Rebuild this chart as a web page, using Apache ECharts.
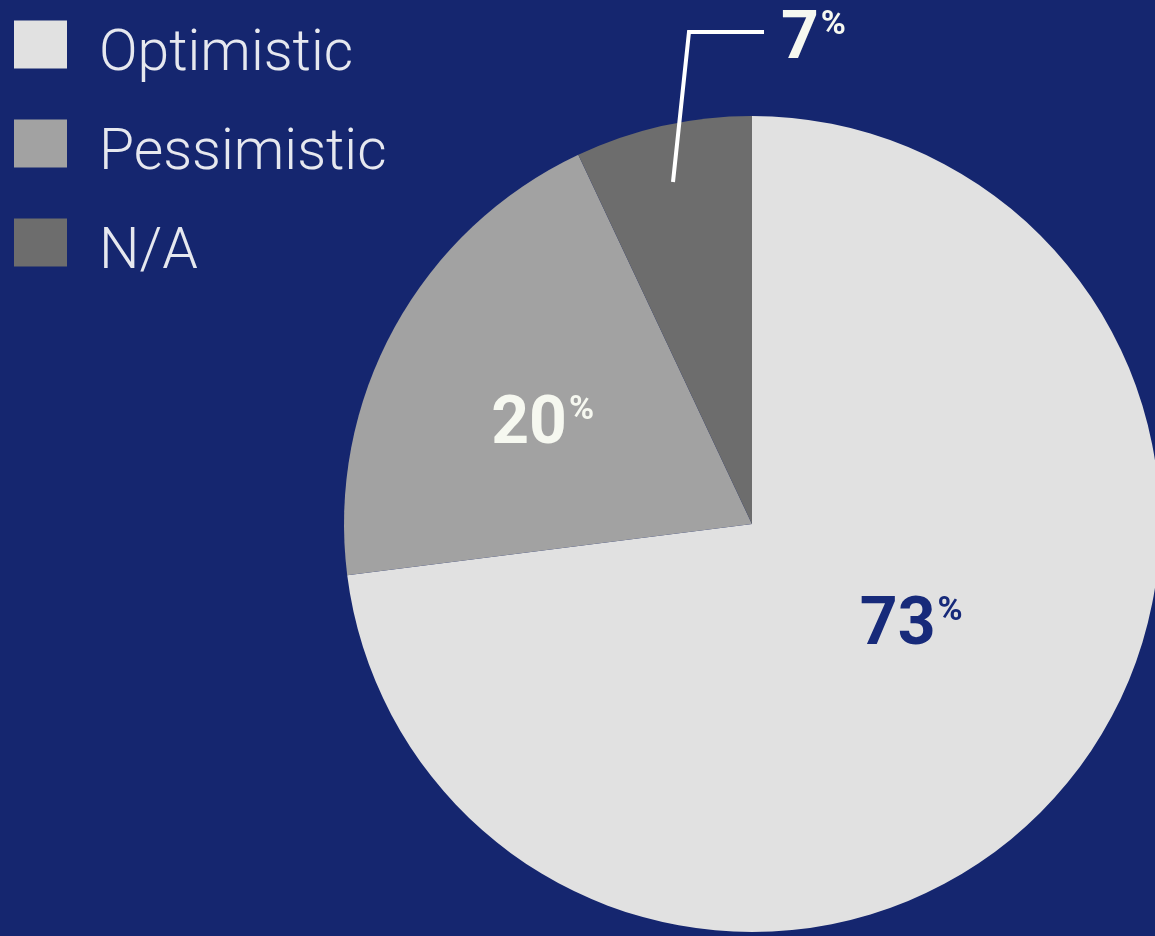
<!DOCTYPE html>
<html><head><meta charset="utf-8">
<script src="https://cdn.jsdelivr.net/npm/echarts@6/dist/echarts.min.js"></script>
<style>html,body{margin:0;padding:0;background:#15266f;}#c{width:1155px;height:936px;}</style>
</head><body><div id="c"></div>
<script>
const categories = ['Optimistic', 'Pessimistic', 'N/A'];
const values = [73, 20, 7];
const sliceColors = ['#e1e1e1', '#a2a2a2', '#6d6d6d'];
const labelColors = ['#172a7a', '#f6f8f0', '#f6f8f0'];

const chart = echarts.init(document.getElementById('c'), null, {renderer: 'canvas'});
const labelOffsets = [[4, -33], [-28, 2]];
const richFor = (i) => ({
  n: { fontSize: 66, fontWeight: 'bold', fontFamily: 'Roboto', color: labelColors[i], lineHeight: 66 },
  p: { fontSize: 34, fontWeight: 'bold', fontFamily: 'Roboto', color: labelColors[i], verticalAlign: 'top', lineHeight: 66, padding: [0, 0, 28, 2] }
});
const common = {
  type: 'pie',
  center: [752, 524],
  radius: [0, 408],
  startAngle: 90,
  clockwise: true,
  emphasis: { disabled: true },
  silent: true
};
const option = {
  backgroundColor: '#15266f',
  animation: false,
  legend: {
    orient: 'vertical', left: 14, top: 5, padding: 0,
    itemWidth: 53, itemHeight: 48, itemGap: 20,
    icon: 'rect',
    data: categories,
    formatter: function (name) { return '{t|' + name + '}'; },
    textStyle: {
      color: '#e6e8ef', fontSize: 57, fontWeight: 300, fontFamily: 'Roboto',
      rich: { t: { color: '#e6e8ef', fontSize: 57, fontWeight: 300, fontFamily: 'Roboto', lineHeight: 48, padding: [22, 0, 0, 27] } }
    },
    selectedMode: false
  },
  series: [Object.assign({}, common, {
    name: 'main',
    data: categories.map((c, i) => ({
      name: c, value: values[i],
      itemStyle: { color: sliceColors[i] },
      label: {
        show: i !== 2,
        position: 'inside',
        formatter: '{n|{c}}{p|%}',
        rich: richFor(i)
      },
      labelLine: { show: false }
    })),
    labelLayout: function (p) {
      const o = labelOffsets[p.dataIndex] || [0, 0];
      return { dx: o[0], dy: o[1] };
    }
  }), Object.assign({}, common, {
    name: 'callout',
    z: 3,
    data: categories.map((c, i) => ({
      name: c, value: values[i],
      itemStyle: { color: 'rgba(0,0,0,0)' },
      label: {
        show: i === 2,
        position: 'outside',
        formatter: '{n|{c}}{p|%}',
        rich: richFor(i)
      },
      labelLine: i === 2 ? { show: true, lineStyle: { color: '#ffffff', width: 4 } } : { show: false }
    })),
    labelLayout: function (p) {
      if (p.dataIndex === 2) {
        return {
          x: 781, y: 41, align: 'left', verticalAlign: 'middle',
          labelLinePoints: [[673, 182], [689, 32], [764, 32]]
        };
      }
      return {};
    }
  })]
};
chart.setOption(option);
</script></body></html>
